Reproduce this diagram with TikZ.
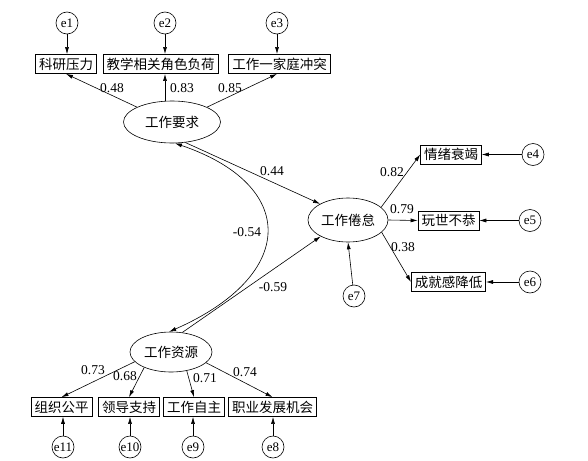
\documentclass[tikz,border=0pt]{standalone}
\usepackage{fontspec}
\setmainfont{Liberation Serif}
\newfontfamily\cjk{Noto Sans CJK SC}
\usetikzlibrary{shapes.geometric, arrows.meta}

\begin{document}
\begin{tikzpicture}[x=1pt, y=-1pt,
    every node/.style={anchor=center},
    obs/.style={draw, semithick, rectangle, inner xsep=3.5pt, minimum height=19pt, font=\cjk\fontsize{13.5}{13.5}\selectfont},
    lat/.style={draw, semithick, ellipse, inner sep=0pt, font=\cjk\fontsize{13.5}{13.5}\selectfont},
    err/.style={draw, semithick, circle, inner sep=0pt, minimum size=22pt, font=\fontsize{13}{13}\selectfont},
    coef/.style={inner sep=1pt, font=\fontsize{13.5}{13.5}\selectfont},
    path/.style={semithick, -{Latex[length=7pt,width=4pt]}}]
    \useasboundingbox (0,0) rectangle (588,460);
    % Variables latents
    \node[lat, minimum width=97pt, minimum height=42pt] (dem) at (172,122) {工作要求};
    \node[lat, minimum width=80pt, minimum height=44pt] (bur) at (348,220) {工作倦怠};
    \node[lat, minimum width=82pt, minimum height=40pt] (res) at (171,352) {工作资源};
    % Indicadors de les exigències
    \node[obs] (d1) at (66,64) {科研压力};
    \node[obs, minimum width=109pt] (d2) at (160.5,64) {教学相关角色负荷};
    \node[obs, minimum width=95pt] (d3) at (279.5,64) {工作一家庭冲突};
    \node[err] (e1) at (67,23) {e1};
    \node[err] (e2) at (165,23) {e2};
    \node[err] (e3) at (277,23) {e3};
    % Indicadors del cremat
    \node[obs] (b1) at (451,154.5) {情绪衰竭};
    \node[obs] (b2) at (448.5,220.5) {玩世不恭};
    \node[obs] (b3) at (448.5,282) {成就感降低};
    \node[err] (e4) at (533,154.5) {e4};
    \node[err] (e5) at (530,220.5) {e5};
    \node[err] (e6) at (530,282) {e6};
    \node[err] (e7) at (354,296) {e7};
    % Indicadors dels recursos
    \node[obs] (r1) at (61.5,407) {组织公平};
    \node[obs] (r2) at (129,407) {领导支持};
    \node[obs] (r3) at (194,407) {工作自主};
    \node[obs] (r4) at (272.5,407) {职业发展机会};
    \node[err] (e11) at (63,447) {e11};
    \node[err] (e10) at (130,447) {e10};
    \node[err] (e9) at (193,447) {e9};
    \node[err] (e8) at (273,447) {e8};
    % Càrregues
    \draw[path] (dem.157) -- (d1.south);
    \draw[path] (dem.north -| e2) -- (d2.south -| e2);
    \draw[path] (dem.23) -- (d3.south -| e3);
    \draw[path] (bur.21) -- (b1.west);
    \draw[path] (bur.east) -- (b2.west);
    \draw[path] (bur.-20) -- (b3.west);
    \draw[path] (res.195) -- (r1.north);
    \draw[path] (res.210) -- (r2.north);
    \draw[path] (res.310) -- (r3.north);
    \draw[path] (res.343) -- (r4.north);
    % Errors
    \draw[path] (e1) -- (d1.north -| e1);
    \draw[path] (e2) -- (d2.north -| e2);
    \draw[path] (e3) -- (d3.north -| e3);
    \draw[path] (e4) -- (b1.east);
    \draw[path] (e5) -- (b2.east);
    \draw[path] (e6) -- (b3.east);
    \draw[path] (e7) -- (bur.south);
    \draw[path] (e11) -- (r1.south -| e11);
    \draw[path] (e10) -- (r2.south -| e10);
    \draw[path] (e9) -- (r3.south -| e9);
    \draw[path] (e8) -- (r4.south -| e8);
    % Camins estructurals
    \draw[path] (dem.-57) -- (bur.150);
    \draw[path] (res.60) -- (bur.211);
    \draw[semithick, {Latex[length=7pt,width=4pt]}-{Latex[length=7pt,width=4pt]}] (dem.-82) .. controls (298,185) and (298,275) .. (res.95);
    % Coeficients
    \node[coef] (c48) at (112,88) {0.48};
    \node[coef] (c83) at (182,88) {0.83};
    \node[coef] (c85) at (230,88) {0.85};
    \node[coef] (c44) at (272,171) {0.44};
    \node[coef] (c54) at (247,232) {-0.54};
    \node[coef] (c59) at (273,287) {-0.59};
    \node[coef] (c82) at (392,172) {0.82};
    \node[coef] (c79) at (402,209) {0.79};
    \node[coef] (c38) at (403,247) {0.38};
    \node[coef] (c73) at (93,370) {0.73};
    \node[coef] (c68) at (125,376) {0.68};
    \node[coef] (c71) at (205,378) {0.71};
    \node[coef] (c74) at (245,372) {0.74};
\end{tikzpicture}
\end{document}
